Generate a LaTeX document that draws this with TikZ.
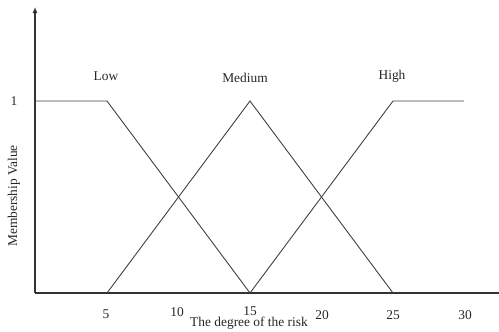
\documentclass[tikz,border=0pt]{standalone}
\usepackage{fontspec}
\setmainfont{Liberation Serif}
\usetikzlibrary{arrows.meta}
\begin{document}
\begin{tikzpicture}[x=1pt,y=-1pt,
  axis/.style={line width=1.1pt, draw=black!80},
  mf/.style={line width=0.9pt, draw=black!75, line join=miter},
  lbl/.style={font=\fontsize{13.4}{15}\selectfont, text=black!85, inner sep=0pt}]
\useasboundingbox (0,0) rectangle (499,332);

% axes
\coordinate (O) at (35,293);
\coordinate (ytop) at (35,7);
\coordinate (xend) at (499,293);
\draw[axis, -{Latex[length=6pt,width=5pt]}] (O) -- (ytop);
\draw[axis] (O) -- (xend);

% corner points of the membership functions
\coordinate (y1) at (35,101);
\coordinate (b5) at (107,293);
\coordinate (t5) at (107,101);
\coordinate (b15) at (250,293);
\coordinate (t15) at (250,101);
\coordinate (b25) at (393,293);
\coordinate (t25) at (393,101);
\coordinate (t30) at (464,101);

% Low, Medium, High
\draw[mf] (y1) -- (t5) -- (b15);
\draw[mf] (b5) -- (t15) -- (b25);
\draw[mf] (b15) -- (t25) -- (t30);

% labels
\node[lbl] (low) at (106,76) {Low};
\node[lbl] (med) at (245,78) {Medium};
\node[lbl] (high) at (392,76) {High};
\node[lbl] (one) at (14,101) {1};
\node[lbl, rotate=90] (ylab) at (14,196) {Membership Value};

\node[lbl] (x5) at (106,314) {5};
\node[lbl] (x10) at (177,312) {10};
\node[lbl] (x15) at (250,311) {15};
\node[lbl] (x20) at (322,315) {20};
\node[lbl] (x25) at (393,315) {25};
\node[lbl] (x30) at (465,315) {30};
\node[lbl] (xlab) at (249,323) {The degree of the risk};
\end{tikzpicture}
\end{document}
